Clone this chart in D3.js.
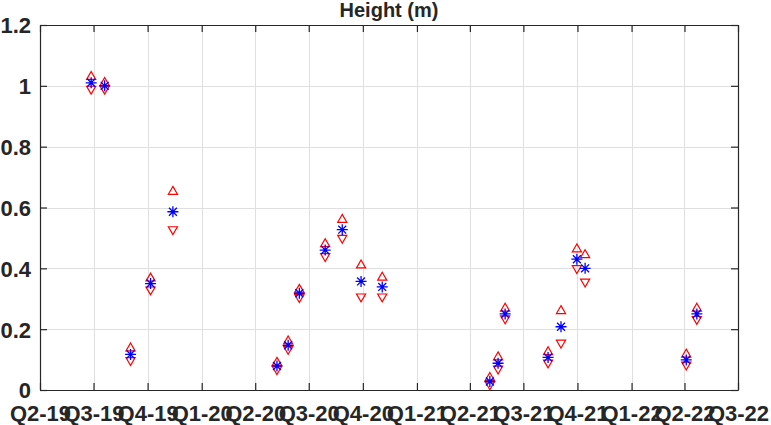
<!DOCTYPE html>
<meta charset="utf-8">
<title>Height (m)</title>
<style>
body {
  margin: 0;
  background: #fff;
}
text {
  font-family: "Liberation Sans", Arial, Helvetica, sans-serif;
  font-weight: bold;
  fill: #262626;
}
.grid line {
  stroke: #dfdfdf;
  stroke-width: 1px;
}
</style>
<body>
<script src="https://d3js.org/d3.v7.min.js"></script>
<script>
var w = 771,
    h = 425,
    margin = {top: 25, right: 33, bottom: 35, left: 40};

// survey dates and heights (m): mean, upper bound, lower bound
var dates = ["2019-06-27", "2019-07-20", "2019-09-02", "2019-10-06", "2019-11-13",
             "2020-05-08", "2020-05-27", "2020-06-15", "2020-07-29", "2020-08-27",
             "2020-09-28", "2020-11-03", "2021-05-05", "2021-05-19", "2021-05-31",
             "2021-08-12", "2021-09-03", "2021-09-30", "2021-10-14", "2022-04-04",
             "2022-04-22"];
var meanH  = [1.01, 1.00, 0.117, 0.35, 0.586, 0.079, 0.147, 0.318, 0.46, 0.527,
              0.357, 0.339, 0.028, 0.088, 0.25, 0.107, 0.208, 0.43, 0.40, 0.099, 0.25];
var upperH = [1.03, 1.01, 0.137, 0.367, 0.652, 0.09, 0.16, 0.33, 0.48, 0.56,
              0.41, 0.37, 0.04, 0.108, 0.268, 0.125, 0.26, 0.463, 0.444, 0.117, 0.268];
var lowerH = [0.99, 0.99, 0.098, 0.33, 0.528, 0.068, 0.135, 0.305, 0.44, 0.50,
              0.307, 0.307, 0.018, 0.07, 0.235, 0.09, 0.155, 0.40, 0.356, 0.083, 0.233];
var quarterTicks = ["2019-04-01", "2019-07-01", "2019-10-01", "2020-01-01", "2020-04-01",
                    "2020-07-01", "2020-10-01", "2021-01-01", "2021-04-01", "2021-07-01",
                    "2021-10-01", "2022-01-01", "2022-04-01", "2022-07-01"];
var quarterLabels = ["Q2-19", "Q3-19", "Q4-19", "Q1-20", "Q2-20", "Q3-20", "Q4-20",
                     "Q1-21", "Q2-21", "Q3-21", "Q4-21", "Q1-22", "Q2-22", "Q3-22"];
var yTicks = [0, 0.2, 0.4, 0.6, 0.8, 1, 1.2];

var parse = d3.timeParse("%Y-%m-%d");
var tickDates = quarterTicks.map(parse);

var x = d3.scaleTime()
    .domain([tickDates[0], tickDates[tickDates.length - 1]])
    .range([margin.left, w - margin.right]);
var y = d3.scaleLinear()
    .domain([0, 1.2])
    .range([h - margin.bottom, margin.top]);

var svg = d3.select("body").append("svg")
    .attr("width", w)
    .attr("height", h);

// grid
var grid = svg.append("g").attr("class", "grid");
grid.selectAll(".gx")
    .data(tickDates)
  .enter().append("line")
    .attr("x1", function(d) { return Math.round(x(d)) + .5; })
    .attr("x2", function(d) { return Math.round(x(d)) + .5; })
    .attr("y1", y(0))
    .attr("y2", y(1.2));
grid.selectAll(".gy")
    .data(yTicks)
  .enter().append("line")
    .attr("x1", x.range()[0])
    .attr("x2", x.range()[1])
    .attr("y1", function(d) { return Math.round(y(d)) + .5; })
    .attr("y2", function(d) { return Math.round(y(d)) + .5; });

// axes: MATLAB style box, ticks inward
var labelFor = d3.scaleOrdinal().domain(tickDates.map(Number)).range(quarterLabels);

var xAxis = svg.append("g")
    .attr("transform", "translate(0," + y(0) + ")")
    .call(d3.axisBottom(x).tickValues(tickDates).tickSizeInner(-7).tickSizeOuter(0)
      .tickPadding(9).tickFormat(function(d) { return labelFor(+d); }));
var xTop = svg.append("g")
    .attr("transform", "translate(0," + y(1.2) + ")")
    .call(d3.axisTop(x).tickValues(tickDates).tickSizeInner(-7).tickSizeOuter(0)
      .tickFormat(""));
var yAxis = svg.append("g")
    .attr("transform", "translate(" + x.range()[0] + ",0)")
    .call(d3.axisLeft(y).tickValues(yTicks).tickSizeInner(-7).tickSizeOuter(0)
      .tickPadding(9).tickFormat(d3.format("")));
var yRight = svg.append("g")
    .attr("transform", "translate(" + x.range()[1] + ",0)")
    .call(d3.axisRight(y).tickValues(yTicks).tickSizeInner(-7).tickSizeOuter(0)
      .tickFormat(""));

svg.selectAll(".domain, .tick line")
    .attr("stroke", "#262626")
    .attr("stroke-width", 1.2);
svg.selectAll(".tick text")
    .attr("fill", "#262626")
    .style("font-size", "22px")
    .style("font-family", "'Liberation Sans', Arial, sans-serif")
    .style("font-weight", "bold");
xAxis.selectAll(".tick text").attr("dy", "1em");
yAxis.selectAll(".tick text").attr("dy", "0.36em");

// title
svg.append("text")
    .attr("x", (x.range()[0] + x.range()[1]) / 2)
    .attr("y", 17)
    .attr("text-anchor", "middle")
    .style("font-size", "20px")
    .text("Height (m)");

// markers
var pts = dates.map(function(d, i) {
  return {date: parse(d), mean: meanH[i], upper: upperH[i], lower: lowerH[i]};
});

var tri = d3.symbol().type(d3.symbolTriangle).size(36);
var marks = svg.append("g");

marks.selectAll(".up")
    .data(pts)
  .enter().append("path")
    .attr("d", tri)
    .attr("transform", function(d) { return "translate(" + x(d.date) + "," + y(d.upper) + ")"; })
    .attr("fill", "none")
    .attr("stroke", "#ff0000")
    .attr("stroke-width", 1.2);

marks.selectAll(".down")
    .data(pts)
  .enter().append("path")
    .attr("d", tri)
    .attr("transform", function(d) { return "translate(" + x(d.date) + "," + y(d.lower) + ")rotate(180)"; })
    .attr("fill", "none")
    .attr("stroke", "#ff0000")
    .attr("stroke-width", 1.2);

function asterisk(r) {
  var a = r * 0.72;
  return "M" + -r + ",0H" + r + "M0," + -r + "V" + r +
         "M" + -a + "," + -a + "L" + a + "," + a +
         "M" + -a + "," + a + "L" + a + "," + -a;
}

marks.selectAll(".mean")
    .data(pts)
  .enter().append("path")
    .attr("d", asterisk(5.5))
    .attr("transform", function(d) { return "translate(" + x(d.date) + "," + y(d.mean) + ")"; })
    .attr("fill", "none")
    .attr("stroke", "#0000ff")
    .attr("stroke-width", 1.3);
</script>
